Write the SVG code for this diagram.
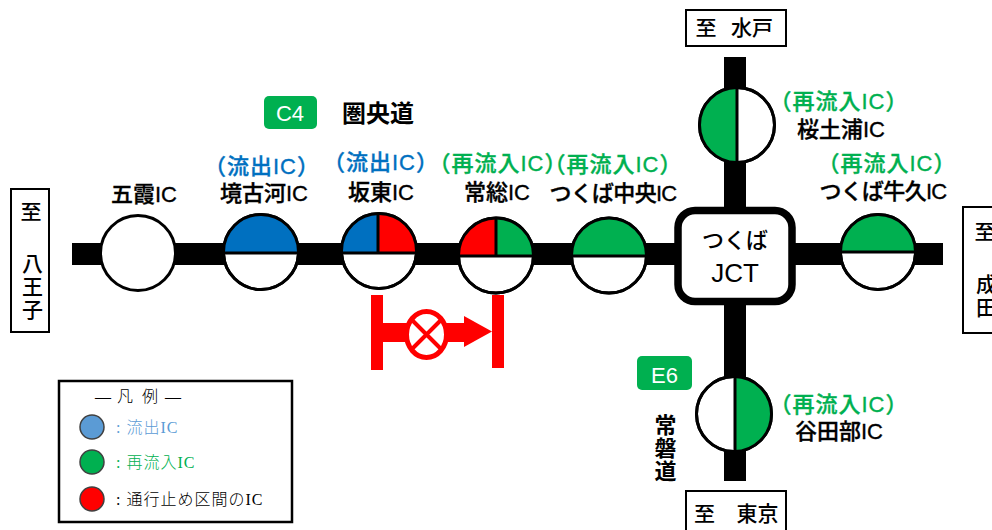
<svg xmlns="http://www.w3.org/2000/svg" width="992" height="530" viewBox="0 0 992 530">
<style>
text{font-family:"Liberation Sans","Noto Sans CJK JP",sans-serif;text-anchor:middle;fill:#000}
.n{font-size:22px;font-weight:500;stroke:#000;stroke-width:.35}
.k{letter-spacing:-.7px}
.b{fill:#0070C0;font-size:22px;font-weight:500;letter-spacing:1px;stroke:#0070C0;stroke-width:.35}
.g{fill:#00B050;font-size:22px;font-weight:500;letter-spacing:1px;stroke:#00B050;stroke-width:.35}
.c{fill:#fff;stroke:#000;stroke-width:3}
.d{stroke:#000;stroke-width:3;fill:none}
.gf{fill:#00B050}.bf{fill:#0070C0}.rf{fill:#FF0000}
.box{fill:#fff;stroke:#000;stroke-width:2}
.bt{font-size:21px;font-weight:500}
.badge{fill:#00B050}
.bdt{fill:#fff;font-size:22px}
.l{font-size:16px;text-anchor:start;letter-spacing:1px;font-family:"Liberation Serif","Noto Sans CJK JP",serif;font-weight:300}
.ld{stroke:#404040;stroke-width:1.500}
.v{writing-mode:vertical-rl;text-anchor:start}
</style>
<g id="connectors">
<rect x="72" y="243" width="871" height="22"/>
<rect x="724" y="57" width="22" height="424"/>
</g>
<g id="ic-goka"><circle class="c" cx="138" cy="253" r="37.500"/><text class="n" x="144" y="202">五霞IC</text></g>
<g id="ic-sakaikoga">
<circle class="c" cx="261" cy="252" r="37.500"/>
<path class="bf" d="M223.500 252A37.500 37.500 0 0 1 298.500 252Z"/>
<path class="d" d="M224 253H298"/><circle class="d" cx="261" cy="252" r="37.500"/>
<text class="b" x="262" y="174">（流出IC）</text><text class="n" x="264" y="201">境古河IC</text></g>
<g id="ic-bando">
<circle class="c" cx="379" cy="251" r="37.500"/>
<path class="bf" d="M341.500 253A37.500 37.500 0 0 1 378 213.500V253Z"/>
<path class="rf" d="M378 253V213.500A37.500 37.500 0 0 1 416.500 253Z"/>
<path class="d" d="M341 253H417M378 213V253"/><circle class="d" cx="379" cy="251" r="37.500"/>
<text class="b" x="381" y="170">（流出IC）</text><text class="n" x="381" y="200">坂東IC</text></g>
<g id="ic-joso">
<circle class="c" cx="496" cy="255.500" r="37.500"/>
<path class="rf" d="M458.500 255.500A37.500 37.500 0 0 1 496 218V255.500Z"/>
<path class="gf" d="M496 255.500V218A37.500 37.500 0 0 1 533.500 255.500Z"/>
<path class="d" d="M459 256H533M496 218V256"/><circle class="d" cx="496" cy="255.500" r="37.500"/>
<text class="g" x="498" y="171">（再流入IC）</text><text class="n" x="497" y="200">常総IC</text></g>
<g id="ic-tsukuba-chuo">
<circle class="c" cx="609" cy="255.500" r="37.500"/>
<path class="gf" d="M571.500 255.500A37.500 37.500 0 0 1 646.500 255.500Z"/>
<path class="d" d="M572 256H646"/><circle class="d" cx="609" cy="255.500" r="37.500"/>
<text class="g" x="613" y="172">（再流入IC）</text><text class="n k" x="613" y="201">つくば中央IC</text></g>
<g id="jct-tsukuba"><rect x="678" y="210.500" width="114" height="91" rx="17" fill="#fff" stroke="#000" stroke-width="7.500"/>
<text x="735" y="248" font-size="22" font-weight="500">つくば</text><text x="735" y="282" font-size="26">JCT</text></g>
<g id="ic-tsukuba-ushiku">
<circle class="c" cx="878" cy="252" r="37.500"/>
<path class="gf" d="M840.500 252A37.500 37.500 0 0 1 915.500 252Z"/>
<path class="d" d="M841 252H915"/><circle class="d" cx="878" cy="252" r="37.500"/>
<text class="g" x="887" y="171">（再流入IC）</text><text class="n k" x="883" y="199">つくば牛久IC</text></g>
<g id="ic-sakuratsuchiura">
<circle class="c" cx="737" cy="125" r="37.500"/>
<path class="gf" d="M737 87.500A37.500 37.500 0 0 0 737 162.500Z"/>
<path class="d" d="M737 88V162"/><circle class="d" cx="737" cy="125" r="37.500"/>
<text class="g" x="839" y="109">（再流入IC）</text><text class="n" x="841" y="137">桜土浦IC</text></g>
<g id="ic-yatabe">
<circle class="c" cx="734" cy="414" r="37.500"/>
<path class="gf" d="M735 376.500A37.500 37.500 0 0 1 735 451.500Z"/>
<path class="d" d="M735 377V451"/><circle class="d" cx="734" cy="414" r="37.500"/>
<text class="g" x="839" y="412">（再流入IC）</text><text class="n" x="839" y="439">谷田部IC</text></g>
<g id="to-hachioji"><rect class="box" x="11" y="189" width="38" height="143"/>
<text class="bt" x="31" y="219">至</text><text class="bt v" x="31" y="253" letter-spacing="2">八王子</text></g>
<g id="to-mito"><rect class="box" x="686" y="10" width="100" height="36"/>
<text class="bt" x="706" y="35">至</text><text class="bt" x="752" y="35">水戸</text></g>
<g id="to-tokyo"><rect class="box" x="686" y="491" width="100" height="40"/>
<text class="bt" x="704.500" y="521">至</text><text class="bt" x="757.500" y="521">東京</text></g>
<g id="to-narita"><rect class="box" x="963" y="207" width="40" height="126"/>
<text class="bt" x="985" y="239">至</text><text class="bt v" x="985" y="274" letter-spacing="2">成田</text></g>
<g id="badge-c4"><rect class="badge" x="264" y="96" width="53" height="33" rx="5"/><text class="bdt" x="290" y="121">C4</text></g>
<text x="378" y="122" font-size="24" font-weight="700">圏央道</text>
<g id="badge-e6"><rect class="badge" x="637" y="356" width="55" height="34" rx="5"/><text class="bdt" x="664.500" y="383">E6</text></g>
<text class="v" x="663" y="414" font-size="22" font-weight="700" letter-spacing="1">常磐道</text>
<g id="closure" fill="#FF0000">
<rect x="371" y="295" width="12" height="75"/>
<rect x="492" y="295" width="12" height="73"/>
<rect x="383" y="323" width="81" height="19"/>
<path d="M464 316L492 331.500L464 347Z"/>
<ellipse cx="426.500" cy="334.500" rx="20" ry="23" fill="#fff" stroke="#FF0000" stroke-width="5"/>
<path d="M412 320L441 349M441 320L412 349" stroke="#FF0000" stroke-width="4"/>
</g>
<g id="legend">
<rect x="59" y="381" width="233" height="141" fill="#fff" stroke="#000" stroke-width="2.500"/>
<text class="l" x="95 112 117 134 142 160 165" y="402" style="letter-spacing:0">― 凡 例 ―</text>
<circle class="ld" cx="92" cy="427" r="12" fill="#5B9BD5"/><text class="l" x="116" y="433" style="fill:#5B9BD5">: 流出IC</text>
<circle class="ld" cx="92" cy="462" r="12" fill="#00B050"/><text class="l" x="116" y="468" style="fill:#00B050">: 再流入IC</text>
<circle class="ld" cx="92" cy="499" r="12" fill="#FF0000"/><text class="l" x="116" y="505">: 通行止め区間のIC</text>
</g>
</svg>
